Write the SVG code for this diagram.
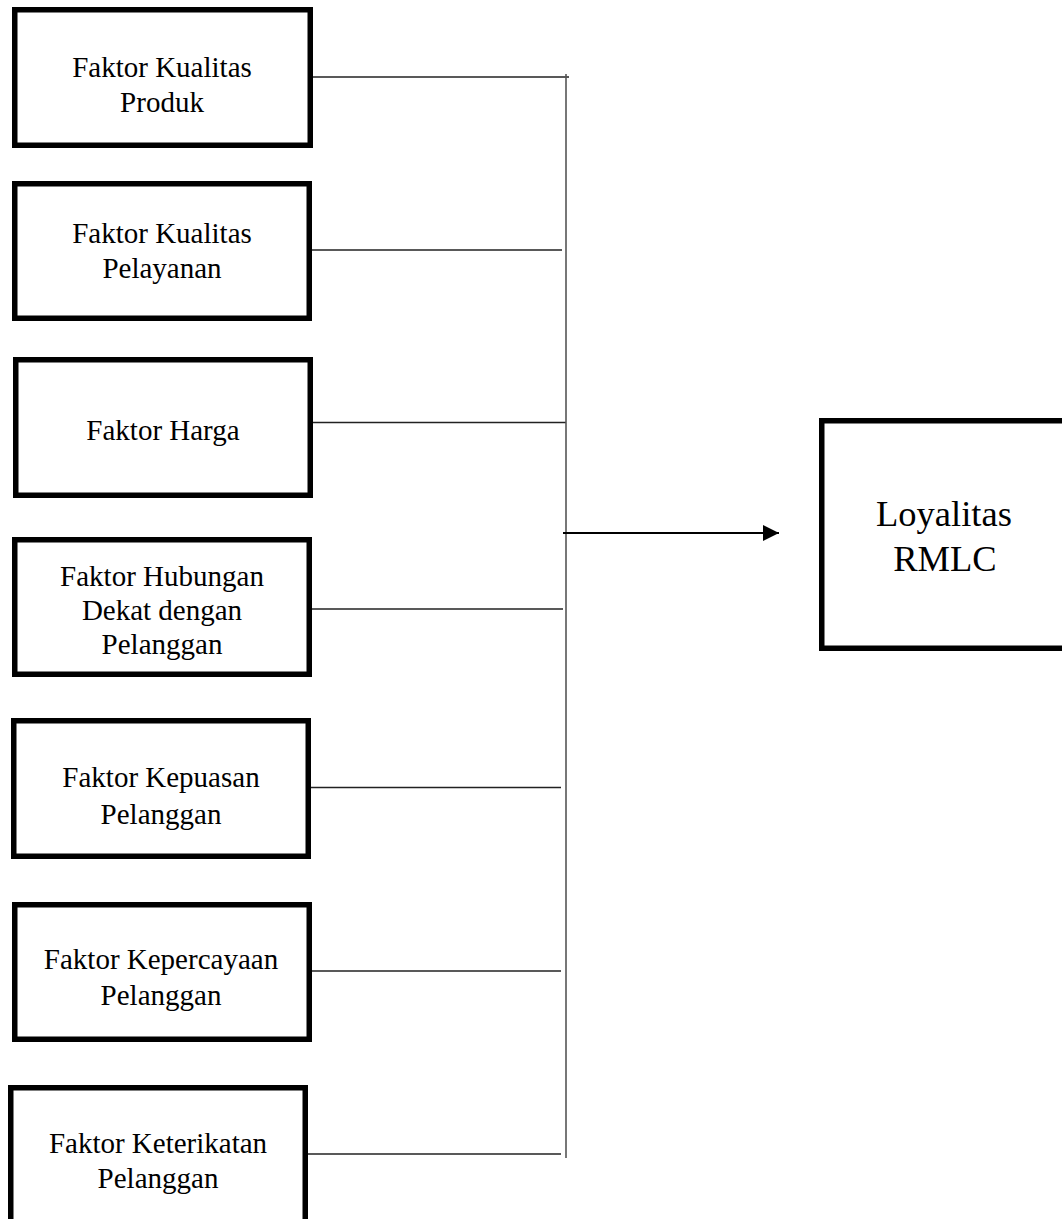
<svg xmlns="http://www.w3.org/2000/svg" width="1062" height="1219" viewBox="0 0 1062 1219">
<style>
.box{fill:#fff;stroke:#000;stroke-width:5.5}
.t{font-family:"Liberation Serif","Times New Roman",serif;font-size:29px;fill:#000;text-anchor:middle}
.tb{font-family:"Liberation Serif","Times New Roman",serif;font-size:36.5px;fill:#000;text-anchor:middle}
.c{stroke:#222;stroke-width:1.3;fill:none}
.v{stroke:#555;stroke-width:1.6;fill:none}
.a{stroke:#000;stroke-width:2.2;fill:none}
</style>
<defs>
<marker id="arr" markerUnits="userSpaceOnUse" markerWidth="16" markerHeight="16" refX="16" refY="8" orient="auto">
<path d="M0,0 L16,8 L0,16 z" fill="#000"/>
</marker>
</defs>
<rect width="1062" height="1219" fill="#fff"/>
<g id="connectors">
<line class="c" x1="312" y1="77" x2="569" y2="77"/>
<line class="c" x1="307" y1="250" x2="562" y2="250"/>
<line class="c" x1="312" y1="422.5" x2="566" y2="422.5"/>
<line class="c" x1="311" y1="609" x2="563" y2="609"/>
<line class="c" x1="310" y1="787.5" x2="561" y2="787.5"/>
<line class="c" x1="305" y1="971" x2="561" y2="971"/>
<line class="c" x1="307" y1="1154" x2="561" y2="1154"/>
<line class="v" x1="566" y1="74" x2="566" y2="1158"/>
<line class="a" x1="563" y1="533" x2="779" y2="533" marker-end="url(#arr)"/>
</g>
<g id="n1">
<rect class="box" x="14.75" y="9.75" width="295.5" height="135.5"/>
<text class="t" x="162" y="77">Faktor Kualitas</text>
<text class="t" x="162" y="112">Produk</text>
</g>
<g id="n2">
<rect class="box" x="14.75" y="183.75" width="294.5" height="134.5"/>
<text class="t" x="162" y="243">Faktor Kualitas</text>
<text class="t" x="162" y="278">Pelayanan</text>
</g>
<g id="n3">
<rect class="box" x="15.75" y="359.75" width="294.5" height="135.5"/>
<text class="t" x="163" y="440">Faktor Harga</text>
</g>
<g id="n4">
<rect class="box" x="14.75" y="539.75" width="294.5" height="134.5"/>
<text class="t" x="162" y="586">Faktor Hubungan</text>
<text class="t" x="162" y="620">Dekat dengan</text>
<text class="t" x="162" y="654">Pelanggan</text>
</g>
<g id="n5">
<rect class="box" x="13.75" y="720.75" width="294.5" height="135.5"/>
<text class="t" x="161" y="787">Faktor Kepuasan</text>
<text class="t" x="161" y="824">Pelanggan</text>
</g>
<g id="n6">
<rect class="box" x="14.75" y="904.75" width="294.5" height="134.5"/>
<text class="t" x="161" y="969">Faktor Kepercayaan</text>
<text class="t" x="161" y="1005">Pelanggan</text>
</g>
<g id="n7">
<rect class="box" x="10.75" y="1087.75" width="294.5" height="135.5"/>
<text class="t" x="158" y="1153">Faktor Keterikatan</text>
<text class="t" x="158" y="1188">Pelanggan</text>
</g>
<g id="n8">
<rect class="box" x="821.75" y="420.75" width="247.5" height="227.5"/>
<text class="tb" x="944" y="526">Loyalitas</text>
<text class="tb" x="945" y="571">RMLC</text>
</g>
</svg>
